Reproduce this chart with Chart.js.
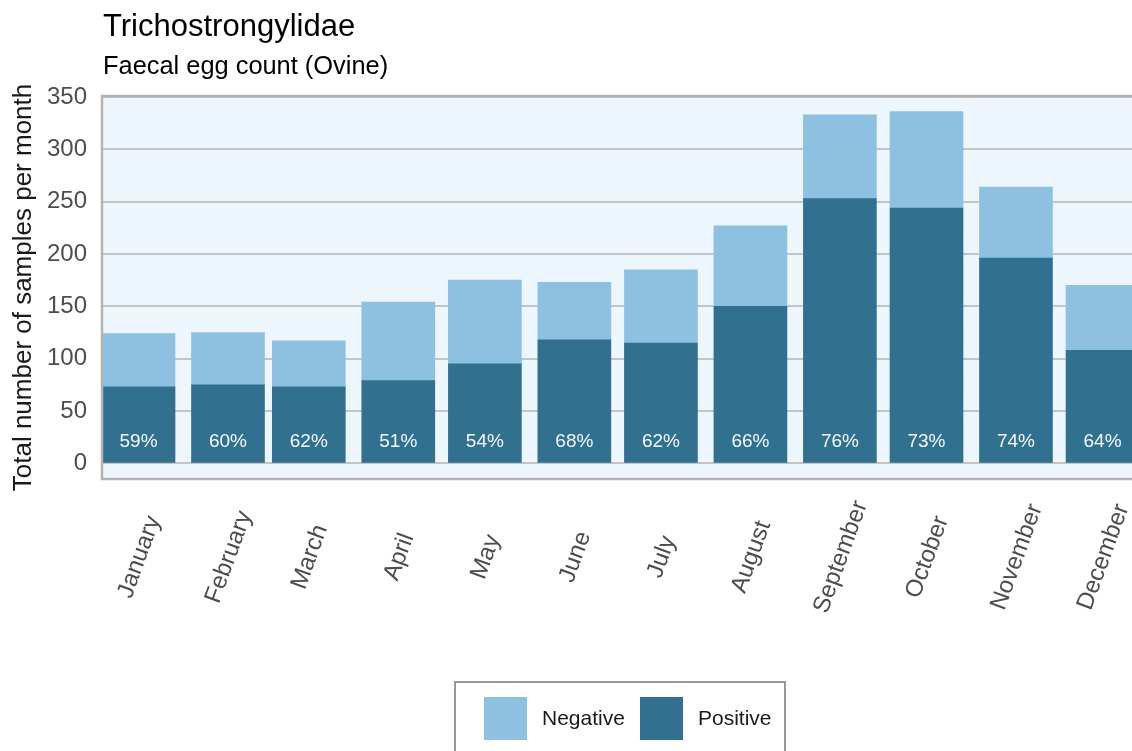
<!DOCTYPE html>
<html>
<head>
<meta charset="utf-8">
<script src="https://cdn.jsdelivr.net/npm/chart.js@4.4.0/dist/chart.umd.min.js"></script>
<style>
html, body { margin: 0; padding: 0; background: #ffffff; }
canvas { display: block; }
</style>
</head>
<body>
<canvas id="c" width="1132" height="751"></canvas>
<script>
const chartTitle = 'Trichostrongylidae';
const chartSubtitle = 'Faecal egg count (Ovine)';
const yAxisTitle = 'Total number of samples per month';
const months = ['January', 'February', 'March', 'April', 'May', 'June', 'July', 'August', 'September', 'October', 'November', 'December'];
const monthDates = ['2023-01-01', '2023-02-01', '2023-03-01', '2023-04-01', '2023-05-01', '2023-06-01', '2023-07-01', '2023-08-01', '2023-09-01', '2023-10-01', '2023-11-01', '2023-12-01'];
const positive = [73, 75, 73, 79, 95, 118, 115, 150, 253, 244, 196, 108];
const negative = [51, 50, 44, 75, 80, 55, 70, 77, 80, 92, 68, 62];
const yTickValues = [0, 50, 100, 150, 200, 250, 300, 350];
const seriesNames = ['Negative', 'Positive'];

const FONT = '"Liberation Sans", Arial, Helvetica, sans-serif';
const COL_NEG = '#8EC0E1';
const COL_POS = '#31708F';

const dayOffsets = monthDates.map(d => (Date.parse(d) - Date.parse(monthDates[0])) / 86400000);

const decor = {
  id: 'decor',
  beforeDraw(chart) {
    const { ctx, chartArea: a } = chart;
    ctx.save();
    ctx.fillStyle = '#EEF6FD';
    ctx.fillRect(a.left, a.top, a.right - a.left, a.bottom - a.top);
    ctx.restore();
  },
  afterDatasetsDraw(chart) {
    const { ctx, chartArea: a } = chart;
    const ys = chart.scales.y;
    const meta = chart.getDatasetMeta(0);
    ctx.save();
    ctx.beginPath();
    ctx.rect(a.left, a.top, a.right - a.left, a.bottom - a.top);
    ctx.clip();
    ctx.font = '19px ' + FONT;
    ctx.fillStyle = '#F4F8FB';
    ctx.textAlign = 'center';
    ctx.textBaseline = 'middle';
    meta.data.forEach((bar, i) => {
      const pct = Math.round(100 * positive[i] / (positive[i] + negative[i]));
      ctx.fillText(pct + '%', bar.x, ys.getPixelForValue(0) - 21.5);
    });
    ctx.restore();
    // plot border (top, left, bottom)
    ctx.save();
    ctx.strokeStyle = '#B3B3B3';
    ctx.lineWidth = 2.5;
    ctx.beginPath();
    ctx.moveTo(a.right + 5, a.top);
    ctx.lineTo(a.left, a.top);
    ctx.lineTo(a.left, a.bottom);
    ctx.lineTo(a.right + 5, a.bottom);
    ctx.stroke();
    ctx.restore();
  },
  afterDraw(chart) {
    const ctx = chart.ctx;
    const xs = chart.scales.x;
    ctx.save();
    // titles
    ctx.fillStyle = '#000000';
    ctx.textAlign = 'left';
    ctx.textBaseline = 'alphabetic';
    ctx.font = '31px ' + FONT;
    ctx.fillText(chartTitle, 103, 36);
    ctx.font = '25.4px ' + FONT;
    ctx.fillText(chartSubtitle, 103, 74);
    // x tick labels, centred and rotated
    ctx.font = '24px ' + FONT;
    ctx.fillStyle = '#4D4D4D';
    ctx.textAlign = 'center';
    ctx.textBaseline = 'middle';
    xs.ticks.forEach((t, i) => {
      const px = xs.getPixelForValue(t.value);
      ctx.save();
      ctx.translate(px + 1, 557);
      ctx.rotate(-70 * Math.PI / 180);
      ctx.fillText(months[i], 0, 0);
      ctx.restore();
    });
    // legend
    ctx.strokeStyle = '#999999';
    ctx.lineWidth = 2;
    ctx.strokeRect(455, 682, 330, 100);
    ctx.fillStyle = COL_NEG;
    ctx.fillRect(484, 697, 43, 43);
    ctx.fillStyle = COL_POS;
    ctx.fillRect(640, 697, 43, 43);
    ctx.fillStyle = '#1A1A1A';
    ctx.font = '21px ' + FONT;
    ctx.textAlign = 'left';
    ctx.textBaseline = 'middle';
    ctx.fillText(seriesNames[0], 542, 719);
    ctx.fillText(seriesNames[1], 698, 719);
    ctx.restore();
  }
};

new Chart(document.getElementById('c'), {
  type: 'bar',
  data: {
    datasets: [
      {
        label: seriesNames[1],
        data: positive.map((v, i) => ({ x: dayOffsets[i], y: v })),
        backgroundColor: COL_POS,
        borderWidth: 0,
        barThickness: 73
      },
      {
        label: seriesNames[0],
        data: negative.map((v, i) => ({ x: dayOffsets[i], y: v })),
        backgroundColor: COL_NEG,
        borderWidth: 0,
        barThickness: 73
      }
    ]
  },
  options: {
    responsive: false,
    devicePixelRatio: 1,
    animation: false,
    layout: { padding: { top: 96, left: 0, right: 0, bottom: 0 } },
    plugins: {
      legend: { display: false },
      tooltip: { enabled: false },
      title: { display: false }
    },
    scales: {
      x: {
        type: 'linear',
        stacked: true,
        min: -12.65,
        max: 344.2,
        offset: false,
        afterBuildTicks: s => { s.ticks = dayOffsets.map(v => ({ value: v })); },
        afterFit: s => { s.height = 272; s.paddingLeft = 0; s.paddingRight = 0; },
        grid: { display: false },
        border: { display: false },
        ticks: { display: false }
      },
      y: {
        stacked: true,
        min: -15,
        max: 351,
        afterBuildTicks: s => { s.ticks = yTickValues.map(v => ({ value: v })); },
        afterFit: s => { s.width = 102; s.paddingTop = 0; s.paddingBottom = 0; },
        grid: { color: '#C4C4C4', lineWidth: 2, drawTicks: false },
        border: { display: false },
        ticks: { font: { size: 24, family: FONT }, color: '#4D4D4D', padding: 15 },
        title: {
          display: true,
          text: yAxisTitle,
          font: { size: 26, family: FONT },
          color: '#1A1A1A',
          padding: { top: 8, bottom: 0 }
        }
      }
    }
  },
  plugins: [decor]
});
</script>
</body>
</html>
